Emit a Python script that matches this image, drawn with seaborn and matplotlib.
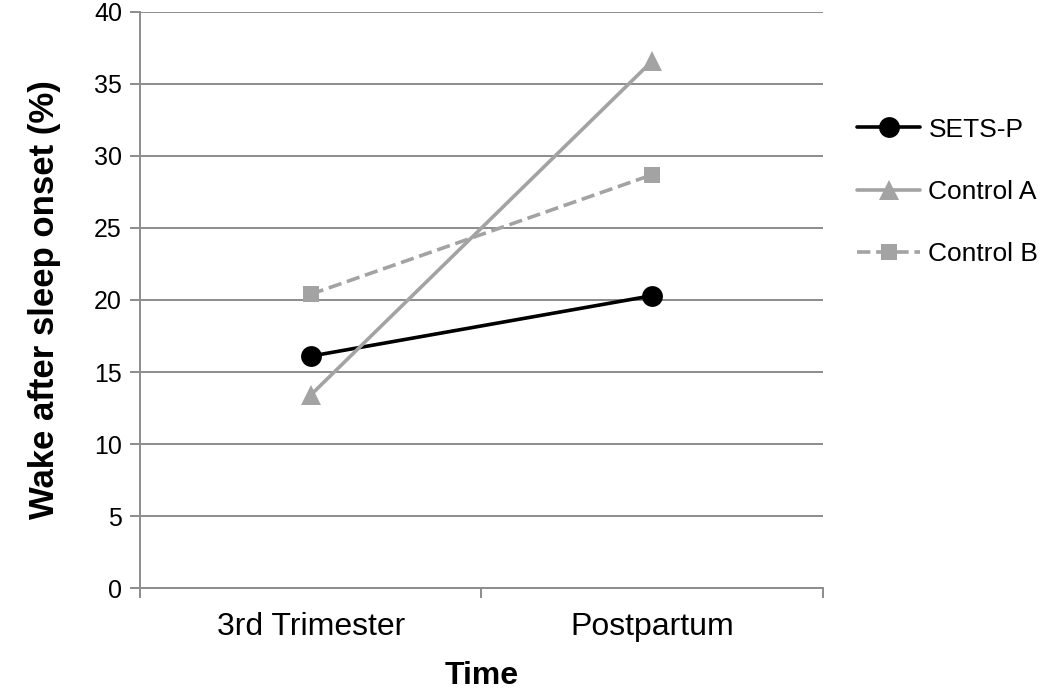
import numpy as np
import pandas as pd
import matplotlib.pyplot as plt
import seaborn as sns

# Data
times = ['3rd Trimester', 'Postpartum']
sets_p = [16.1, 20.3]
control_a = [13.4, 36.6]
control_b = [20.4, 28.7]

sns.set_style('white')
plt.rcParams['font.family'] = ['Liberation Sans', 'DejaVu Sans']
plt.rcParams['text.color'] = 'black'
plt.rcParams['axes.labelcolor'] = 'black'

fig = plt.figure(figsize=(10.5, 6.93), dpi=100)
ax = fig.add_axes([0.1333, 0.1515, 0.6505, 0.8312])

grid_col = '#8c8c8c'
gray = '#a3a3a3'

series = [
    ('SETS-P', sets_p, 'black', 'o', '-', 15),
    ('Control A', control_a, gray, '^', '-', 15),
    ('Control B', control_b, gray, 's', '--', 12),
]

for name, vals, col, mk, ls, ms in series:
    df = pd.DataFrame({'Time': times, 'value': vals})
    sns.lineplot(data=df, x='Time', y='value', ax=ax, color=col, marker=mk,
                 linestyle=ls, linewidth=2.6, markersize=ms, markeredgewidth=0,
                 label=name, sort=False)

ax.set_ylim(0, 40)
ax.set_yticks(np.arange(0, 41, 5))
ax.set_xlim(-0.5, 1.5)
ax.set_xticks([0, 1])
ax.set_xticklabels(times)
ax.set_xticks([-0.5, 0.5, 1.5], minor=True)

ax.yaxis.grid(True, color=grid_col, linewidth=1.4)
ax.set_axisbelow(True)
for s in ['top', 'right']:
    ax.spines[s].set_visible(False)
for s in ['left', 'bottom']:
    ax.spines[s].set_color(grid_col)
    ax.spines[s].set_linewidth(1.4)

ax.tick_params(axis='y', which='major', length=7, width=1.4, color=grid_col,
               labelcolor='black', labelsize=18, pad=6, left=True)
ax.tick_params(axis='x', which='major', length=0, labelsize=23, pad=17,
               labelcolor='black')
ax.tick_params(axis='x', which='minor', length=7, width=1.4, color=grid_col,
               bottom=True)

ax.set_xlabel('Time', fontsize=23, fontweight='bold', labelpad=14)
ax.set_ylabel('Wake after sleep onset (%)', fontsize=25, fontweight='bold',
              labelpad=24)

ax.legend(loc='center left', bbox_to_anchor=(1.05, 0.6875), frameon=False,
          fontsize=19, handlelength=2.4, labelspacing=1.45, handletextpad=0.3,
          borderaxespad=0, borderpad=0)

fig.savefig('out.png', dpi=100)
